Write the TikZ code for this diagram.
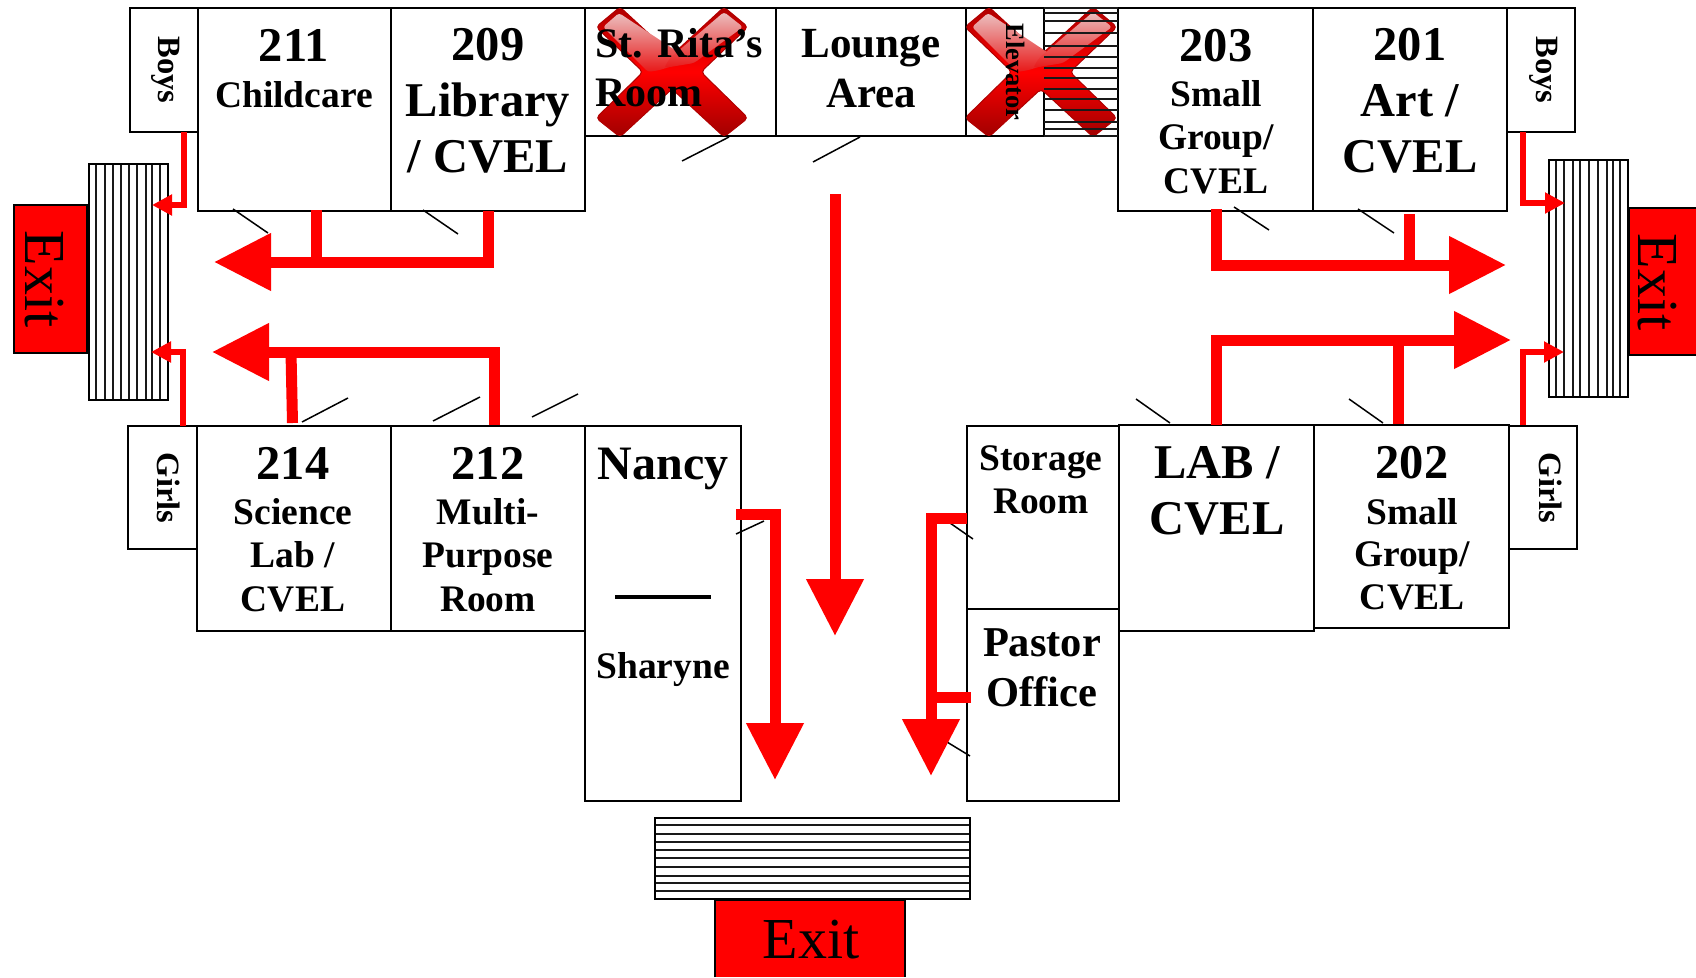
\documentclass[tikz,border=0pt]{standalone}
\usepackage{fontspec}
\setmainfont{Liberation Serif}
\usetikzlibrary{arrows.meta}
\definecolor{xdark}{HTML}{A00000}
\definecolor{xedge}{HTML}{B00000}
\definecolor{xpale}{HTML}{EBBFBF}
\definecolor{xend}{HTML}{E81818}
\newcommand\rl[3]{\fontsize{#1pt}{#1pt}\selectfont\smash{#3}\rule{0pt}{#2pt}}
\newcommand\stk[1]{\vbox{\offinterlineskip\halign{\hfil##\hfil\cr #1\crcr}}}
\newcommand\roombox[5]{%
  \pgfmathsetmacro\rw{#4-#2}\pgfmathsetmacro\rh{#5-#3}%
  \pgfmathsetmacro\rx{(#4+#2)/2}\pgfmathsetmacro\ry{(#5+#3)/2}%
  \node[room,minimum width=\rw pt,minimum height=\rh pt] (#1) at (\rx,\ry) {};}
\newcommand\xsign[2]{%
  \begin{scope}[shift={(#1,#2)}]
  \path[rounded corners=4pt,draw=xedge,line width=1pt,top color=xedge,bottom color=xdark,middle color=red]
    (-52,-65)--(0,-17)--(52,-65)--(76,-45)--(29,0)--(76,46)--(52,65)--(0,17)--(-52,65)--(-76,46)--(-29,0)--(-76,-45)--cycle;
  \path[rounded corners=3pt,top color=xpale,bottom color=xend]
    (-53,-59)--(18,-12)--(-12,-2)--(-24,0)--(-69,-45)--cycle;
  \path[rounded corners=3pt,top color=xpale,bottom color=xend]
    (52,-60)--(71,-45)--(22,-9)--(-8,-4)--(-2,-14)--cycle;
  \end{scope}}
\tikzset{
  room/.style={draw=black,line width=2.9pt,fill=white,inner sep=0pt,outer sep=0pt},
  exitbox/.style={room,fill=red},
  exitfill/.style={fill=red,inner sep=0pt,outer sep=0pt},
  exitedge/.style={draw=black,line width=2.9pt},
  hatchbox/.style={draw=black,line width=2.4pt},
  hatchline/.style={draw=black!90,line width=1.8pt},
  lbl/.style={inner sep=0pt,outer sep=0pt,font=\bfseries,anchor=north},
  vlbl/.style={inner sep=0pt,outer sep=0pt,font=\bfseries\fontsize{32.5pt}{32.5pt}\selectfont,anchor=base,rotate=-90},
  exitlbl/.style={inner sep=0pt,outer sep=0pt,font=\fontsize{58pt}{58pt}\selectfont,anchor=base},
  tick/.style={draw=black,line width=1.5pt},
  bigarrow/.style={draw=red,line width=11pt,-{Triangle[length=57pt,width=55pt]}},
  smallarrow/.style={draw=red,line width=6.5pt,-{Triangle[length=20pt,width=20pt]}},
  feed/.style={draw=red,line width=11pt},
}
\begin{document}
\begin{tikzpicture}[x=1pt,y=-1pt]
\useasboundingbox (0,0) rectangle (1696,977);
\fill[white] (0,0) rectangle (1696,977);
% rooms
\roombox{boysL}{130}{8}{198}{132}
\roombox{r211}{198}{8}{391}{211}
\roombox{r209}{391}{8}{585}{211}
\roombox{rita}{585}{8}{776}{136}
\roombox{lounge}{776}{8}{966}{136}
\roombox{elev}{966}{8}{1044}{136}
\roombox{r203}{1118}{8}{1313}{211}
\roombox{r201}{1313}{8}{1507}{211}
\roombox{boysR}{1507}{8}{1575}{132}
\roombox{girlsL}{128}{426}{197}{549}
\roombox{r214}{197}{426}{391}{631}
\roombox{r212}{391}{426}{585}{631}
\roombox{nancy}{585}{426}{741}{801}
\roombox{storage}{967}{426}{1119}{609}
\roombox{pastor}{967}{609}{1119}{801}
\roombox{lab}{1119}{425}{1314}{631}
\roombox{r202}{1314}{425}{1509}{628}
\roombox{girlsR}{1509}{426}{1577}{549}
% X marks
\xsign{672}{72}
\xsign{1041}{72}
% stairs
\foreach \x in {96,105,113,121,129,137,146,152,160} \draw[hatchline] (\x,164)--(\x,400);
\node[hatchbox,minimum width=79pt,minimum height=236pt,inner sep=0pt] (stairL) at (128.5,282) {};
\foreach \x in {1556,1564,1573,1580,1589,1598,1607,1613,1620} \draw[hatchline] (\x,160)--(\x,397);
\node[hatchbox,minimum width=79pt,minimum height=237pt,inner sep=0pt] (stairR) at (1588.5,278.5) {};
\foreach \y in {13,21,33,46,57,68,78,89,99,110,122,129} \draw[hatchline] (1044,\y)--(1118,\y);
\draw[hatchline] (1044,8)--(1118,8) (1044,136)--(1118,136);
\foreach \y in {825,834,842,850,858,867,876,883,891} \draw[hatchline] (655,\y)--(970,\y);
\node[hatchbox,minimum width=315pt,minimum height=81pt,inner sep=0pt] (stairB) at (812.5,858.5) {};
% exits
\node[exitbox,minimum width=73pt,minimum height=148pt] (exitLb) at (50.5,279) {};
\node[exitlbl,rotate=-90] (exitLt) at (25,279) {Exit};
\node[exitfill,minimum width=67pt,minimum height=147pt] (exitRb) at (1662.5,281.5) {};
\draw[exitedge] (exitRb.north east)--(exitRb.north west)--(exitRb.south west)--(exitRb.south east);
\node[exitlbl,rotate=-90] (exitRt) at (1638,282) {Exit};
\node[exitfill,minimum width=190pt,minimum height=77pt] (exitBb) at (810,938.5) {};
\draw[exitedge] (exitBb.south west)--(exitBb.north west)--(exitBb.north east)--(exitBb.south east);
\node[exitlbl] (exitBt) at (811,958) {Exit};
% door ticks
\coordinate (k1a) at (233,209); \coordinate (k1b) at (268,233); \draw[tick] (k1a)--(k1b);
\coordinate (k2a) at (423,210); \coordinate (k2b) at (458,234); \draw[tick] (k2a)--(k2b);
\coordinate (k3a) at (302,422); \coordinate (k3b) at (348,398); \draw[tick] (k3a)--(k3b);
\coordinate (k4a) at (433,421); \coordinate (k4b) at (480,397); \draw[tick] (k4a)--(k4b);
\coordinate (k5a) at (532,417); \coordinate (k5b) at (578,394); \draw[tick] (k5a)--(k5b);
\coordinate (k6a) at (682,161); \coordinate (k6b) at (729,137); \draw[tick] (k6a)--(k6b);
\coordinate (k7a) at (813,162); \coordinate (k7b) at (860,137); \draw[tick] (k7a)--(k7b);
\coordinate (k8a) at (1234,207); \coordinate (k8b) at (1269,230); \draw[tick] (k8a)--(k8b);
\coordinate (k9a) at (1358,209); \coordinate (k9b) at (1394,233); \draw[tick] (k9a)--(k9b);
\coordinate (k10a) at (1136,399); \coordinate (k10b) at (1170,423); \draw[tick] (k10a)--(k10b);
\coordinate (k11a) at (1349,399); \coordinate (k11b) at (1383,423); \draw[tick] (k11a)--(k11b);
\coordinate (k12a) at (736,534); \coordinate (k12b) at (764,521); \draw[tick] (k12a)--(k12b);
\coordinate (k13a) at (950,523); \coordinate (k13b) at (973,539); \draw[tick] (k13a)--(k13b);
\coordinate (k14a) at (947,742); \coordinate (k14b) at (970,756); \draw[tick] (k14a)--(k14b);
% labels
\node[vlbl] (t1) at (158,70) {Boys};
\node[vlbl] (t2) at (157,488) {Girls};
\node[vlbl] (t3) at (1536,70) {Boys};
\node[vlbl] (t4) at (1539,488) {Girls};
\node[vlbl,font=\bfseries\fontsize{26.5pt}{26.5pt}\selectfont] (t5) at (1006,72) {Elevator};
\node[lbl] (t211) at (294,8) {\stk{\rl{48.5}{53}{211}\cr\rl{37.5}{46}{Childcare}}};
\node[lbl] (t209) at (488,8) {\stk{\rl{48.5}{52}{209}\cr\rl{48.5}{56}{Library}\cr\rl{48.5}{56}{/ CVEL}}};
\node[lbl] (tRita) at (679,8) {\stk{\rl{42}{49}{St. Rita’s}\cr\rl{42}{49}{Room}\hfill}};
\node[lbl] (tLounge) at (871,8) {\stk{\rl{43}{49}{Lounge}\cr\rl{43}{50}{Area}}};
\node[lbl] (t203) at (1216,8) {\stk{\rl{48.5}{53}{203}\cr\rl{37.5}{45}{Small}\cr\rl{37.5}{43}{Group/}\cr\rl{37.5}{44}{CVEL}}};
\node[lbl] (t201) at (1410,8) {\stk{\rl{48.5}{52}{201}\cr\rl{48.5}{56}{Art /}\cr\rl{48.5}{56}{CVEL}}};
\node[lbl] (t214) at (293,426) {\stk{\rl{48.5}{53}{214}\cr\rl{37.5}{45}{Science}\cr\rl{37.5}{43}{Lab /}\cr\rl{37.5}{44}{CVEL}}};
\node[lbl] (t212) at (488,426) {\stk{\rl{48.5}{53}{212}\cr\rl{37.5}{45}{Multi-}\cr\rl{37.5}{43}{Purpose}\cr\rl{37.5}{44}{Room}}};
\node[lbl] (tNancy) at (663,426) {\stk{\rl{48}{53}{Nancy}\cr\rl{37.5}{199}{Sharyne}}};
\coordinate (da) at (615,597); \coordinate (db) at (711,597); \draw[draw=black,line width=4.5pt] (da)--(db);
\node[lbl] (tStorage) at (1041,426) {\stk{\rl{37.5}{44}{Storage}\cr\rl{37.5}{43}{Room}}};
\node[lbl] (tPastor) at (1042,609) {\stk{\rl{42.5}{47}{Pastor}\cr\rl{42.5}{50}{Office}}};
\node[lbl] (tLab) at (1217,425) {\stk{\rl{48.5}{53}{LAB /}\cr\rl{48.5}{56}{CVEL}}};
\node[lbl] (t202) at (1412,425) {\stk{\rl{48.5}{53}{202}\cr\rl{37.5}{46}{Small}\cr\rl{37.5}{42}{Group/}\cr\rl{37.5}{43}{CVEL}}};
% arrows: top left
\coordinate (s209) at (488,211); \coordinate (e1) at (214,262);
\draw[bigarrow] (s209) |- (e1);
\coordinate (s211) at (316,210); \draw[feed] (s211)--(s211 |- e1);
% lower left
\coordinate (s212) at (494,425); \coordinate (e2) at (212,352);
\draw[bigarrow] (s212) |- (e2);
\coordinate (s214) at (292.5,423); \coordinate (m214) at (291,352); \draw[feed] (s214)--(m214);
% top right
\coordinate (s203) at (1216,209); \coordinate (e3) at (1506,265);
\draw[bigarrow] (s203) |- (e3);
\coordinate (s201) at (1409,214); \draw[feed] (s201)--(s201 |- e3);
% lower right
\coordinate (sLab) at (1216,425); \coordinate (e4) at (1511,340);
\draw[bigarrow] (sLab) |- (e4);
\coordinate (s202) at (1398,424); \draw[feed] (s202)--(s202 |- e4);
% centre
\coordinate (sC) at (835,194); \coordinate (eC) at (835,636); \draw[bigarrow] (sC)--(eC);
% Nancy
\coordinate (sN) at (736,514); \coordinate (eN) at (775,780); \draw[bigarrow] (sN) -| (eN);
% storage / pastor
\coordinate (sS) at (967,518); \coordinate (eS) at (931,776); \draw[bigarrow] (sS) -| (eS);
\coordinate (sP) at (971,697); \draw[feed] (sP)--(sP -| eS);
% washrooms
\coordinate (bL) at (184,132); \coordinate (ebL) at (152,205); \draw[smallarrow] (bL) |- (ebL);
\coordinate (gL) at (183,426); \coordinate (egL) at (151,352); \draw[smallarrow] (gL) |- (egL);
\coordinate (bR) at (1523,132); \coordinate (ebR) at (1565,203); \draw[smallarrow] (bR) |- (ebR);
\coordinate (gR) at (1523,425); \coordinate (egR) at (1564,352); \draw[smallarrow] (gR) |- (egR);
\end{tikzpicture}
\end{document}
